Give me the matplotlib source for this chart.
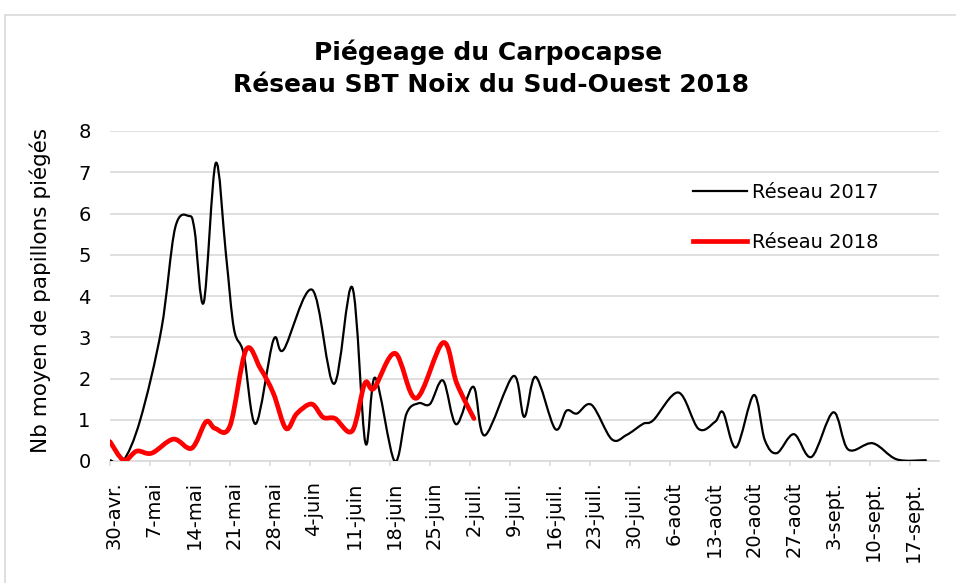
import numpy as np
import matplotlib.pyplot as plt
from matplotlib.path import Path
from matplotlib.patches import PathPatch, Rectangle
from matplotlib.lines import Line2D
import matplotlib.transforms as mtransforms

# jours comptés depuis le 30 avril
jours_2017 = [0, 2.3, 5.3, 9.0, 11.4, 13.8, 14.8, 16.4, 18.5, 20.3, 21.7, 23.4, 25.5, 28.6,
              30.4, 35.4, 39.2, 42.4, 44.7, 46.4, 49.8, 51.9, 54.0, 56.0, 58.3, 60.6, 63.6,
              65.6, 70.6, 72.5, 74.5, 77.9, 79.9, 81.7, 84.3, 87.8, 90.4, 93.3, 95.1,
              99.5, 103.0, 105.9, 107.3, 109.6, 112.7, 114.6, 116.7, 119.7, 122.8,
              126.6, 129.2, 133.5, 137.7, 142.8]
reseau_2017 = [0.02, 0.0, 1.0, 3.2, 5.65, 5.94, 5.6, 3.84, 7.22, 5.0, 3.2, 2.6, 0.9, 2.93,
               2.7, 4.15, 1.87, 4.21, 0.44, 2.02, 0.0, 1.15, 1.4, 1.38, 1.95, 0.89, 1.8,
               0.62, 2.06, 1.07, 2.04, 0.78, 1.22, 1.15, 1.36, 0.53, 0.63, 0.9, 0.99,
               1.66, 0.78, 0.95, 1.18, 0.33, 1.6, 0.51, 0.19, 0.65, 0.1,
               1.18, 0.28, 0.43, 0.04, 0.02]

jours_2018 = [0, 2.4, 4.7, 7.3, 11.1, 14.3, 16.8, 18.4, 21.0, 23.8, 26.3, 28.6, 30.8,
              32.7, 35.3, 37.3, 39.4, 42.4, 44.6, 46.2, 49.9, 53.6, 58.3, 60.7, 63.7]
reseau_2018 = [0.47, 0.02, 0.24, 0.19, 0.53, 0.31, 0.95, 0.79, 0.85, 2.69, 2.25, 1.64, 0.79,
               1.15, 1.38, 1.06, 1.03, 0.73, 1.88, 1.76, 2.61, 1.52, 2.87, 1.88, 1.03]

tick_jours = list(range(0, 141, 7))
tick_labels = ['30-avr.', '7-mai', '14-mai', '21-mai', '28-mai', '4-juin', '11-juin',
               '18-juin', '25-juin', '2-juil.', '9-juil.', '16-juil.', '23-juil.',
               '30-juil.', '6-août', '13-août', '20-août', '27-août', '3-sept.',
               '10-sept.', '17-sept.']


def courbe_lissee(x, y):
    # lissage façon Excel : courbes de Bézier cubiques
    pts = np.column_stack([x, y])
    verts = [pts[0]]
    codes = [Path.MOVETO]
    n = len(pts)
    for i in range(n - 1):
        p0 = pts[max(i - 1, 0)]
        p1 = pts[i]
        p2 = pts[i + 1]
        p3 = pts[min(i + 2, n - 1)]
        c1 = p1 + (p2 - p0) / 6
        c2 = p2 - (p3 - p1) / 6
        verts += [c1, c2, p2]
        codes += [Path.CURVE4] * 3
    return Path(verts, codes)


fig = plt.figure(figsize=(9.56, 5.83), dpi=100)
fig.patches.append(Rectangle((5 / 956, -0.01), 1.0, 1 - 15 / 583 + 0.01,
                             transform=fig.transFigure, fill=False,
                             edgecolor='#d9d9d9', linewidth=1.2))
ax = fig.add_axes([110 / 956, 1 - 461 / 583, 829 / 956, 330 / 583])

ax.add_patch(PathPatch(courbe_lissee(jours_2017, reseau_2017), fill=False,
                       edgecolor='black', linewidth=1.6, capstyle='round',
                       joinstyle='round', zorder=3))
ax.add_patch(PathPatch(courbe_lissee(jours_2018, reseau_2018), fill=False,
                       edgecolor='#ff0000', linewidth=3.4, capstyle='round',
                       joinstyle='round', zorder=4))

ax.set_xlim(0, 145.1)
ax.set_ylim(0, 8)
ax.set_yticks(range(0, 9))
ax.grid(axis='y', color='#d9d9d9', linewidth=1.2)
ax.set_axisbelow(True)
for s in ['top', 'right', 'left']:
    ax.spines[s].set_visible(False)
ax.spines['bottom'].set_color('#d9d9d9')
ax.spines['bottom'].set_linewidth(1.2)
ax.tick_params(axis='y', length=0, labelsize=14, pad=14)
ax.tick_params(axis='x', length=3.6, color='#d9d9d9', width=1.2, labelsize=14, pad=11)
ax.set_xticks(tick_jours, tick_labels, rotation=90)
decal = mtransforms.ScaledTranslation(4 / 100, 0, fig.dpi_scale_trans)
for lab in ax.get_xticklabels():
    lab.set_transform(lab.get_transform() + decal)

ax.set_ylabel('Nb moyen de papillons piégés', fontsize=15.5)
ax.yaxis.label.set_va('center')
ax.yaxis.set_label_coords(-70 / 829, 0.518)

fig.text(488 / 956, 1 - 52 / 583, 'Piégeage du Carpocapse',
         ha='center', va='center', fontsize=18, fontweight='bold')
fig.text(491 / 956, 1 - 85 / 583, 'Réseau SBT Noix du Sud-Ouest 2018',
         ha='center', va='center', fontsize=18, fontweight='bold')

handles = [Line2D([], [], color='black', linewidth=1.6),
           Line2D([], [], color='#ff0000', linewidth=3.4)]
ax.legend(handles, ['Réseau 2017', 'Réseau 2018'], loc='upper left',
          bbox_to_anchor=(693 / 956, 1 - 183 / 583), bbox_transform=fig.transFigure,
          frameon=False, fontsize=14, handlelength=2.78, handletextpad=0.26,
          labelspacing=1.57, borderpad=0, borderaxespad=0)

fig.savefig('out.png', dpi=100)
